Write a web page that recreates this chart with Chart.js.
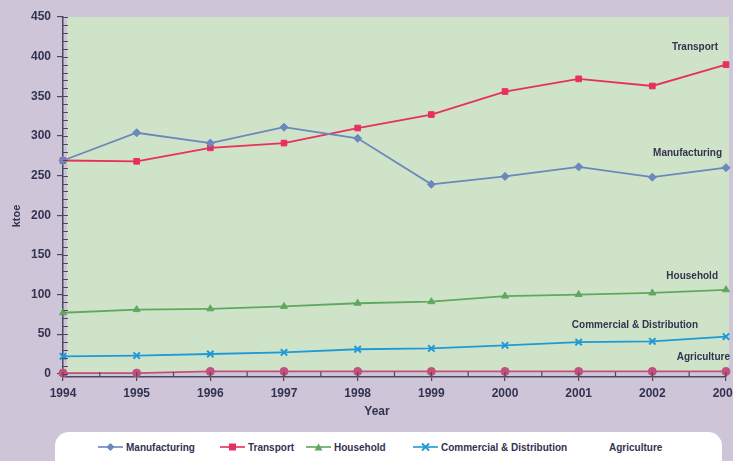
<!DOCTYPE html>
<html><head><meta charset="utf-8">
<script src="https://cdn.jsdelivr.net/npm/chart.js@4.4.1/dist/chart.umd.min.js"></script>
<style>
html,body{margin:0;padding:0;background:#cec5d9;}
#wrap{position:relative;width:733px;height:461px;overflow:hidden;}
#c{position:absolute;left:0;top:0;}
#legend{position:absolute;left:55px;top:432px;width:667px;height:50px;background:#fff;border-radius:14px;font:bold 10px "Liberation Sans",Arial,sans-serif;color:#33334f;}
.item{position:absolute;top:10px;height:10px;display:flex;align-items:center;white-space:nowrap;}
.item svg{margin-right:3px;}
</style></head>
<body><div id="wrap"><canvas id="c" width="733" height="461"></canvas><div id="legend"></div></div>
<script>
// ---- data ----
const years = ['1994','1995','1996','1997','1998','1999','2000','2001','2002','2003'];
const manufacturing = [269, 304, 291, 311, 297, 239, 249, 261, 248, 260];
const transport     = [269, 268, 285, 291, 310, 327, 356, 372, 363, 390];
const household     = [77, 81, 82, 85, 89, 91, 98, 100, 102, 106];
const commercial    = [22, 23, 25, 27, 31, 32, 36, 40, 41, 47];
const agriculture   = [1, 1, 3, 3, 3, 3, 3, 3, 3, 3];
const yTicks = [0, 50, 100, 150, 200, 250, 300, 350, 400, 450];
const seriesNames = ['Manufacturing','Transport','Household','Commercial & Distribution','Agriculture'];

const colors = ['#6a88bd','#e8305f','#5fa860','#1e9ad6','#c3507c'];
const textColor = '#33334f';
const axisColor = '#4a4a5e';
const FONT = '"Liberation Sans", Arial, sans-serif';

// ---- plugins ----
const bgPlugin = {
  id: 'bg',
  beforeDraw(chart) {
    const {ctx, chartArea: a} = chart;
    ctx.save();
    ctx.fillStyle = '#cec5d9';
    ctx.fillRect(0, 0, chart.width, chart.height);
    ctx.fillStyle = '#cfe3c8';
    ctx.fillRect(a.left + 4, a.top, a.right + 3 - (a.left + 4), a.bottom - 5 - a.top);
    ctx.restore();
  },
  afterDatasetsDraw(chart) {
    const {ctx, chartArea: a, scales} = chart;
    const y = scales.y, x = scales.x;
    ctx.save();
    ctx.strokeStyle = axisColor;
    ctx.lineWidth = 1.2;
    ctx.beginPath();
    for (let v = 0; v <= 450; v += 10) {
      const py = Math.round(y.getPixelForValue(v)) + 0.5;
      ctx.moveTo(a.left, py); ctx.lineTo(a.left + 5, py);
    }
    for (let i = 0; i < years.length; i++) {
      const px = x.getPixelForValue(i);
      ctx.moveTo(px, a.bottom); ctx.lineTo(px, a.bottom - 5);
      if (i < years.length - 1) {
        const pm = x.getPixelForValue(i + 0.5);
        ctx.moveTo(pm, a.bottom); ctx.lineTo(pm, a.bottom - 5);
      }
    }
    ctx.stroke();
    // text annotations
    ctx.fillStyle = textColor;
    ctx.font = 'bold 10px ' + FONT;
    ctx.textAlign = 'right';
    ctx.textBaseline = 'middle';
    const notes = [
      [seriesNames[1], 718, 47],
      [seriesNames[0], 722, 153],
      [seriesNames[2], 718, 276],
      [seriesNames[3], 698, 325],
      [seriesNames[4], 730, 357]
    ];
    notes.forEach(n => ctx.fillText(n[0], n[1], n[2]));
    // axis titles
    ctx.font = 'bold 12px ' + FONT;
    ctx.textAlign = 'center';
    ctx.fillText('Year', 377, 412);
    ctx.translate(17, 216);
    ctx.rotate(-Math.PI / 2);
    ctx.font = 'bold 11px ' + FONT;
    ctx.fillText('ktoe', 0, 0);
    ctx.restore();
  }
};

const styles = ['rectRot','rect','triangle','crossRot','circle'];
const radii = [4, 4, 4, 4.5, 4];
const values = [manufacturing, transport, household, commercial, agriculture];

const datasets = values.map((d, i) => ({
  label: seriesNames[i],
  data: d,
  borderColor: colors[i],
  backgroundColor: colors[i],
  borderWidth: 1.8,
  pointStyle: styles[i],
  pointRadius: radii[i],
  pointBorderWidth: i === 3 ? 2 : 1,
  tension: 0,
  clip: false
}));

new Chart(document.getElementById('c'), {
  type: 'line',
  data: { labels: years, datasets },
  plugins: [bgPlugin],
  options: {
    responsive: false,
    animation: false,
    layout: { padding: { top: 17, right: 7, bottom: 44, left: 0 } },
    plugins: { legend: { display: false }, tooltip: { enabled: false } },
    scales: {
      x: {
        type: 'category',
        offset: false,
        grid: { drawOnChartArea: false, drawTicks: true, tickLength: 4, color: axisColor, lineWidth: 1.2 },
        border: { display: true, color: axisColor, width: 1.5 },
        ticks: { color: textColor, font: { family: FONT, size: 12, weight: 'bold' }, padding: 5, maxRotation: 0, autoSkip: false },
        afterFit(s) { s.height = 40; s.paddingLeft = 0; s.paddingRight = 0; }
      },
      y: {
        min: -4, max: 450,
        afterBuildTicks(s) { s.ticks = yTicks.map(v => ({ value: v })); },
        grid: { drawOnChartArea: false, drawTicks: true, tickLength: 6, color: axisColor, lineWidth: 1.2 },
        border: { display: true, color: axisColor, width: 1.5 },
        ticks: { color: textColor, font: { family: FONT, size: 12, weight: 'bold' }, padding: 6 },
        afterFit(s) { s.width = 63; s.paddingTop = 0; s.paddingBottom = 0; }
      }
    }
  }
});

// ---- HTML legend ----
const legendLeft = [43, 165, 251, 358, 554];
function icon(i) {
  const c = colors[i];
  let m = '';
  if (i === 0) m = `<polygon points="12.5,1 16.5,5 12.5,9 8.5,5" fill="${c}"/>`;
  if (i === 1) m = `<rect x="9" y="1.5" width="7" height="7" fill="${c}"/>`;
  if (i === 2) m = `<polygon points="12.5,1.5 16.5,8.5 8.5,8.5" fill="${c}"/>`;
  if (i === 3) m = `<path d="M9 1.5 L16 8.5 M16 1.5 L9 8.5" stroke="${c}" stroke-width="1.8"/>`;
  if (i === 4) return '';
  return `<svg width="25" height="10"><line x1="0" y1="5" x2="25" y2="5" stroke="${c}" stroke-width="1.6"/>${m}</svg>`;
}
const leg = document.getElementById('legend');
seriesNames.forEach((n, i) => {
  const d = document.createElement('div');
  d.className = 'item';
  d.style.left = legendLeft[i] + 'px';
  d.innerHTML = icon(i) + '<span>' + n + '</span>';
  leg.appendChild(d);
});
</script>
</body></html>
